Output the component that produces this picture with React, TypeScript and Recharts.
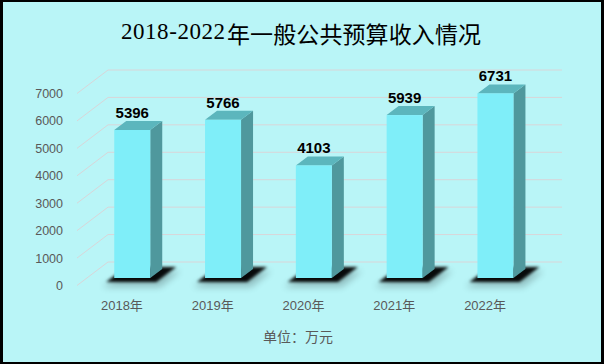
import React from 'react';
import { BarChart, Bar, XAxis, YAxis, CartesianGrid, LabelList } from 'recharts';

const years = ['2018年', '2019年', '2020年', '2021年', '2022年'];
const revenue = [5396, 5766, 4103, 5939, 6731];
const yTicks = [0, 1000, 2000, 3000, 4000, 5000, 6000, 7000];
const titleNum = '2018-2022';
const titleText = '年一般公共预算收入情况';
const unitText = '单位：万元';

const data = years.map((year, i) => ({ year, value: revenue[i] }));

const W = 604;
const H = 364;
const DX = -21; // front face offset from back band
const DY = 16;
const SX = 12; // bar depth
const SY = 9;

const FRONT = '#7feef9';
const TOP = '#5cb6bd';
const SIDE = '#4f989d';
const GRID = '#d9d5d8';
const AXIS_TEXT = '#595959';

const Bar3D = (props: any) => {
  const { x, y, width, height, index } = props;
  const fx = x + DX;
  const fy = y + DY;
  const w = width;
  const h = height;
  const by = fy + h;
  const id = `shd${index}`;
  const id2 = `shd2${index}`;
  return (
    <g>
      <defs>
        <filter id={id} x="-50%" y="-100%" width="200%" height="300%">
          <feGaussianBlur stdDeviation="1.8" />
        </filter>
        <filter id={id2} x="-50%" y="-100%" width="200%" height="300%">
          <feGaussianBlur stdDeviation="3.5" />
        </filter>
      </defs>
      <polygon
        points={`${fx - 12},${by + 9} ${fx + w + 10},${by + 9} ${fx + w + SX + 18},${by - SY + 2} ${fx + SX},${by - SY + 2}`}
        fill="#000"
        opacity={0.22}
        filter={`url(#${id2})`}
      />
      <polygon
        points={`${fx - 8},${by + 4} ${fx + w + 6},${by + 4} ${fx + w + SX + 14},${by - SY - 2} ${fx + SX},${by - SY - 2}`}
        fill="#000"
        opacity={0.95}
        filter={`url(#${id})`}
      />
      <polygon
        points={`${fx + w},${fy} ${fx + w + SX},${fy - SY} ${fx + w + SX},${by - SY} ${fx + w},${by}`}
        fill={SIDE}
      />
      <polygon
        points={`${fx},${fy} ${fx + SX},${fy - SY} ${fx + w + SX},${fy - SY} ${fx + w},${fy}`}
        fill={TOP}
      />
      <rect x={fx} y={fy} width={w} height={h} fill={FRONT} />
    </g>
  );
};

const ValueLabel = (props: any) => {
  const { x, y, width, value } = props;
  return (
    <text
      x={x + DX + width / 2}
      y={y + DY - 12}
      textAnchor="middle"
      fontFamily="'Liberation Sans', Arial, sans-serif"
      fontWeight="bold"
      fontSize={15}
      fill="#000"
    >
      {value}
    </text>
  );
};

const YTick = (props: any) => {
  const { y, payload } = props;
  const fy = y + 23.5;
  return (
    <g>
      <line x1={77} y1={fy} x2={108} y2={y} stroke={GRID} strokeWidth={1} />
      <text
        x={63}
        y={fy}
        dy={4.5}
        textAnchor="end"
        fontFamily="'Liberation Sans', 'Noto Sans CJK SC', sans-serif"
        fontSize={12.5}
        fill={AXIS_TEXT}
      >
        {payload.value}
      </text>
    </g>
  );
};

const XTick = (props: any) => {
  const { x, payload } = props;
  return (
    <text
      x={x - 31.5}
      y={310}
      textAnchor="middle"
      fontFamily="'Liberation Sans', 'Noto Sans CJK SC', sans-serif"
      fontSize={13}
      fill={AXIS_TEXT}
    >
      {payload.value}
    </text>
  );
};

export default function App() {
  return (
    <div style={{ position: 'absolute', left: 0, top: 0, width: W, height: H, background: '#000' }}>
      <div style={{ position: 'absolute', left: 3, top: 2, width: W - 6, height: H - 4, background: '#b9f5f7' }} />
      <div style={{ position: 'absolute', left: 0, top: 0 }}>
        <BarChart
          width={W}
          height={H}
          data={data}
          margin={{ top: 70, right: 42, bottom: 72, left: 0 }}
          barCategoryGap="30%"
        >
          <CartesianGrid horizontal vertical={false} stroke={GRID} strokeWidth={1} />
          <XAxis dataKey="year" axisLine={false} tickLine={false} height={30} tick={<XTick />} interval={0} />
          <YAxis
            width={108}
            domain={[0, 7000]}
            ticks={yTicks}
            axisLine={false}
            tickLine={false}
            tick={<YTick />}
            interval={0}
          />
          <Bar dataKey="value" shape={<Bar3D />} isAnimationActive={false}>
            <LabelList dataKey="value" content={<ValueLabel />} />
          </Bar>
        </BarChart>
      </div>
      <svg width={W} height={H} style={{ position: 'absolute', left: 0, top: 0, pointerEvents: 'none' }}>
        <text
          x={121}
          y={39}
          textLength={104}
          lengthAdjust="spacing"
          fontFamily="'Liberation Serif', serif"
          fontSize={23}
          fill="#000"
        >
          {titleNum}
        </text>
        <text
          x={227}
          y={43}
          textLength={254}
          lengthAdjust="spacing"
          fontFamily="'Noto Sans CJK SC', sans-serif"
          fontSize={23}
          fill="#000"
        >
          {titleText}
        </text>
        <text
          x={298}
          y={342}
          textAnchor="middle"
          fontFamily="'Noto Sans CJK SC', sans-serif"
          fontSize={14}
          fill={AXIS_TEXT}
        >
          {unitText}
        </text>
      </svg>
    </div>
  );
}
